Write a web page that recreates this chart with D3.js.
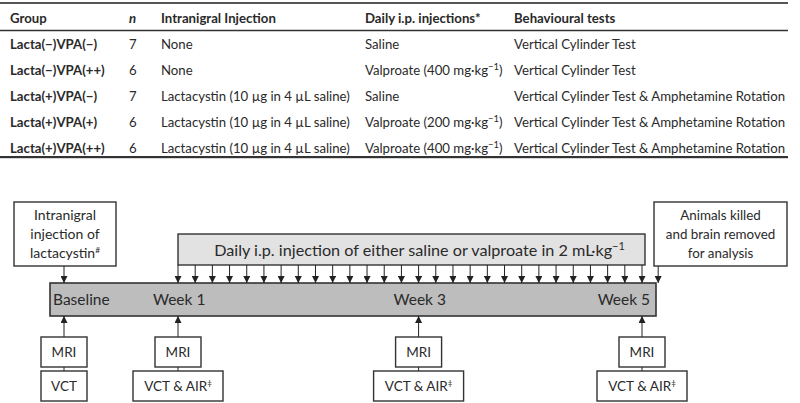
<!DOCTYPE html>
<html><head><meta charset="utf-8">
<script src="https://cdn.jsdelivr.net/npm/d3@7"></script>
<style>body{margin:0;background:#fff}svg{display:block}text{font-family:Lato,"Open Sans",sans-serif;fill:#2a2a2a}</style>
</head><body><svg id="c" width="800" height="403"></svg>
<script>
// ---- table data ----
const headers = ["Group", "n", "Intranigral Injection", "Daily i.p. injections*", "Behavioural tests"];
const groups = ["Lacta(\u2212)VPA(\u2212)", "Lacta(\u2212)VPA(++)", "Lacta(+)VPA(\u2212)", "Lacta(+)VPA(+)", "Lacta(+)VPA(++)"];
const nValues = [7, 6, 7, 6, 6];
const intranigral = ["None", "None", "Lactacystin (10 \u00b5g in 4 \u00b5L saline)", "Lactacystin (10 \u00b5g in 4 \u00b5L saline)", "Lactacystin (10 \u00b5g in 4 \u00b5L saline)"];
const dailyDrug = ["Saline", "Valproate", "Saline", "Valproate", "Valproate"];
const dailyDose = [null, 400, null, 200, 400];
const behaviour = ["Vertical Cylinder Test", "Vertical Cylinder Test", "Vertical Cylinder Test & Amphetamine Rotation", "Vertical Cylinder Test & Amphetamine Rotation", "Vertical Cylinder Test & Amphetamine Rotation"];

// ---- timeline data (days) ----
const weekLabels = ["Baseline", "Week 1", "Week 3", "Week 5"];
const weekDays = [0, 7, 21, 34];
const injectionDays = d3.range(7, 35);   // daily i.p. injections, days 7..34
const killDay = 35;
const assessTop = ["MRI", "MRI", "MRI", "MRI"];
const assessBottom = ["VCT", "VCT & AIR\u2021", "VCT & AIR\u2021", "VCT & AIR\u2021"];

const svg = d3.select("#c");

// ---------- TABLE ----------
const colX = d3.scaleOrdinal().domain(headers).range([10, 129, 161, 365, 514]);
const rowY = d3.scalePoint().domain(d3.range(groups.length)).range([44, 148]);
const fs = 13.2;

svg.append("rect").attr("x", 0).attr("y", 2).attr("width", 788).attr("height", 2).attr("fill", "#555");
svg.append("line").attr("x1", 0).attr("x2", 788).attr("y1", 30.5).attr("y2", 30.5).attr("stroke", "#333").attr("stroke-width", 1.3);
svg.append("rect").attr("x", 0).attr("y", 156).attr("width", 788).attr("height", 2.2).attr("fill", "#333");

svg.selectAll("text.h").data(headers).join("text").attr("class", "h")
  .attr("x", d => colX(d)).attr("y", 22.5)
  .attr("font-size", fs).attr("font-weight", "bold")
  .attr("font-style", d => d === "n" ? "italic" : null)
  .text(d => d);

const rows = svg.selectAll("g.row").data(groups).join("g").attr("class", "row")
  .attr("transform", (d, i) => `translate(0,${rowY(i) + 4.5})`);
rows.append("text").attr("x", colX(headers[0])).attr("font-size", fs).attr("font-weight", "bold").text(d => d);
rows.append("text").attr("x", colX(headers[1])).attr("font-size", fs).text((d, i) => nValues[i]);
rows.append("text").attr("x", colX(headers[2])).attr("font-size", fs).text((d, i) => intranigral[i]);
rows.append("text").attr("x", colX(headers[3])).attr("font-size", fs).each(function(d, i) {
  const t = d3.select(this);
  if (dailyDose[i] == null) { t.text(dailyDrug[i]); return; }
  t.append("tspan").text(`${dailyDrug[i]} (${dailyDose[i]} mg\u00b7kg`);
  t.append("tspan").attr("font-size", 9.5).attr("dy", -5).text("\u22121");
  t.append("tspan").attr("dy", 5).text(")");
});
rows.append("text").attr("x", colX(headers[4])).attr("font-size", fs).text((d, i) => behaviour[i]);

// ---------- TIMELINE ----------
const x = d3.scaleLinear().domain([0, 7, 34]).range([64, 178, 642]);
const stroke = "#333";

const defs = svg.append("defs");
defs.append("marker").attr("id", "ah").attr("viewBox", "0 0 8 8").attr("refX", 8).attr("refY", 4)
  .attr("markerWidth", 7).attr("markerHeight", 7).attr("markerUnits", "userSpaceOnUse").attr("orient", "auto")
  .append("path").attr("d", "M0,0L8,4L0,8Z").attr("fill", "#222");

const barTop = 283, barBot = 316;

// timeline bar
svg.append("rect").attr("x", 50).attr("y", barTop).attr("width", 606).attr("height", barBot - barTop)
  .attr("fill", "#bdbdbd").attr("stroke", stroke).attr("stroke-width", 1.6);

// week labels
svg.selectAll("text.wk").data(weekLabels).join("text").attr("class", "wk")
  .attr("x", (d, i) => i === 0 ? 53 : (i === weekLabels.length - 1 ? x(weekDays[i]) + 8 : x(weekDays[i]) - 25))
  .attr("text-anchor", (d, i) => i === weekLabels.length - 1 ? "end" : "start")
  .attr("y", 305).attr("font-size", 15.5).text(d => d);

// daily injection box
svg.append("rect").attr("x", x(injectionDays[0])).attr("y", 234).attr("width", 645 - x(injectionDays[0])).attr("height", 31)
  .attr("fill", "#e2e2e2").attr("stroke", stroke).attr("stroke-width", 1.4);
const dt = svg.append("text").attr("x", (x(injectionDays[0]) + 645) / 2 + 8).attr("y", 255.5).attr("text-anchor", "middle").attr("font-size", 16.2);
dt.append("tspan").text("Daily i.p. injection of either saline or valproate in 2 mL\u00b7kg");
dt.append("tspan").attr("font-size", 11).attr("dy", -6).text("\u22121");

// daily arrows
svg.selectAll("line.inj").data(injectionDays).join("line").attr("class", "inj")
  .attr("x1", d => x(d)).attr("x2", d => x(d)).attr("y1", 265).attr("y2", barTop)
  .attr("stroke", "#222").attr("stroke-width", 1).attr("marker-end", "url(#ah)");

// top boxes
function multiText(cx, y0, lines, size, lh) {
  const t = svg.append("text").attr("text-anchor", "middle").attr("font-size", size);
  lines.forEach((l, i) => {
    const ts = t.append("tspan").attr("x", cx).attr("y", y0 + i * lh);
    if (Array.isArray(l)) {
      ts.text(l[0]);
      t.append("tspan").attr("font-size", size * 0.6).attr("dy", -5).text(l[1]);
    } else ts.text(l);
  });
}
svg.append("rect").attr("x", 14).attr("y", 202).attr("width", 102).attr("height", 64)
  .attr("fill", "#fff").attr("stroke", stroke).attr("stroke-width", 1.4);
multiText(65, 220, ["Intranigral", "injection of", ["lactacystin", "#"]], 14, 19);
svg.append("line").attr("x1", x(weekDays[0])).attr("x2", x(weekDays[0])).attr("y1", 266).attr("y2", barTop)
  .attr("stroke", "#222").attr("stroke-width", 1).attr("marker-end", "url(#ah)");

svg.append("rect").attr("x", 654).attr("y", 202).attr("width", 133).attr("height", 64)
  .attr("fill", "#fff").attr("stroke", stroke).attr("stroke-width", 1.4);
multiText(720.5, 220, ["Animals killed", "and brain removed", "for analysis"], 13.4, 19);
svg.append("line").attr("x1", x(killDay) - 1).attr("x2", x(killDay) - 1).attr("y1", 266).attr("y2", barTop)
  .attr("stroke", "#222").attr("stroke-width", 1).attr("marker-end", "url(#ah)");

// bottom assessments
const ag = svg.selectAll("g.as").data(weekDays).join("g").attr("class", "as")
  .attr("transform", d => `translate(${x(d)},0)`);
ag.append("line").attr("y1", 337).attr("y2", barBot).attr("stroke", "#222").attr("stroke-width", 1).attr("marker-end", "url(#ah)");
ag.append("line").attr("y1", 367).attr("y2", 371).attr("stroke", "#222").attr("stroke-width", 1);
ag.append("rect").attr("x", -23).attr("y", 337).attr("width", 46).attr("height", 30)
  .attr("fill", "#fff").attr("stroke", stroke).attr("stroke-width", 1.4);
ag.append("text").attr("text-anchor", "middle").attr("y", 357).attr("font-size", 13.5).text((d, i) => assessTop[i]);
ag.each(function(d, i) {
  const g = d3.select(this);
  const lab = assessBottom[i];
  const w = i === 0 ? 46 : 90;
  g.append("rect").attr("x", -w / 2).attr("y", 371).attr("width", w).attr("height", 30)
    .attr("fill", "#fff").attr("stroke", stroke).attr("stroke-width", 1.4);
  const t = g.append("text").attr("text-anchor", "middle").attr("y", 391).attr("font-size", 13.5);
  if (lab.endsWith("\u2021")) {
    t.append("tspan").text(lab.slice(0, -1));
    t.append("tspan").attr("font-size", 8).attr("dy", -5).text("\u2021");
  } else t.text(lab);
});
</script></body></html>
